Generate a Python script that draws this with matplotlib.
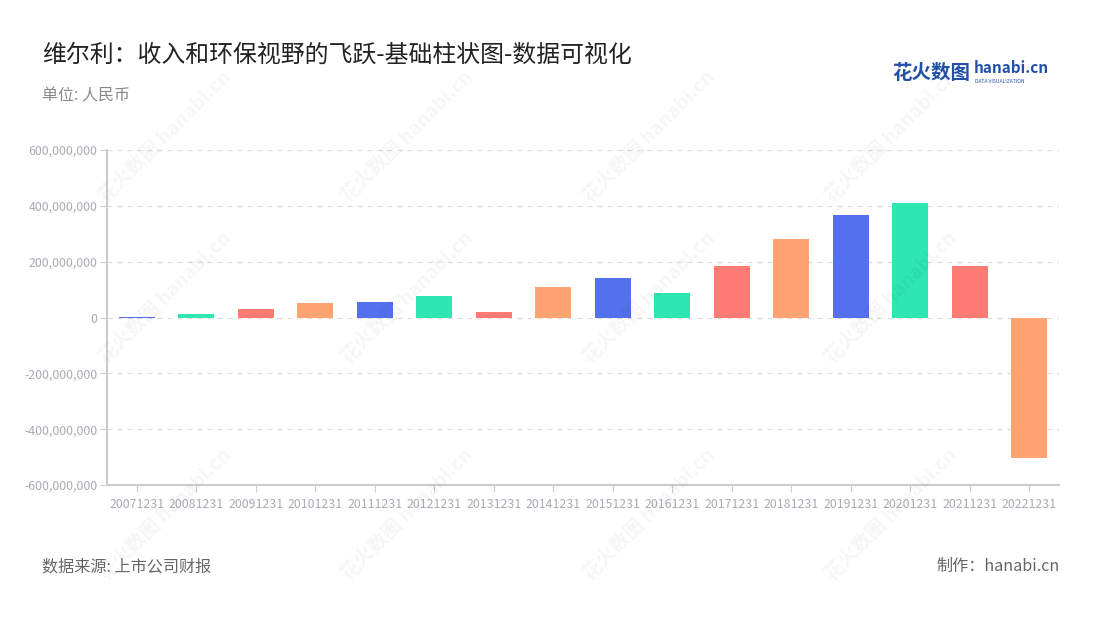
import matplotlib
matplotlib.use("Agg")
import matplotlib.pyplot as plt
from matplotlib.ticker import FuncFormatter

plt.rcParams['font.family'] = ['Noto Sans CJK SC', 'DejaVu Sans']

# Revenue by year-end report date (RMB)
dates = ['20071231', '20081231', '20091231', '20101231', '20111231', '20121231',
         '20131231', '20141231', '20151231', '20161231', '20171231', '20181231',
         '20191231', '20201231', '20211231', '20221231']
values = [0.8e6, 14e6, 30e6, 52e6, 54e6, 77e6, 21e6, 109e6, 141e6, 88e6,
          186e6, 283e6, 366e6, 410e6, 185e6, -502e6]
palette = ['#5470ef', '#2ee6b0', '#ff7a73', '#ffa470']

fig = plt.figure(figsize=(11, 6.2), dpi=100)
ax = fig.add_axes([0.0973, 0.2177, 0.8654, 0.5403])

colors = [palette[i % 4] for i in range(len(dates))]
ax.bar(range(len(dates)), values, width=0.6, color=colors, zorder=3)

ax.set_xlim(-0.5, len(dates) - 0.5)
ax.set_ylim(-600e6, 600e6)
ax.set_yticks([-600e6, -400e6, -200e6, 0, 200e6, 400e6, 600e6])
ax.yaxis.set_major_formatter(FuncFormatter(lambda v, p: f'{int(v):,}'))
ax.set_xticks(range(len(dates)))
ax.set_xticklabels(dates)

ax.grid(axis='y', color='#dddddd', linestyle=(0, (4, 4)), linewidth=0.9, zorder=0)
for s in ['top', 'right']:
    ax.spines[s].set_visible(False)
for s in ['left', 'bottom']:
    ax.spines[s].set_color('#cccccc')
    ax.spines[s].set_linewidth(1.5)
ax.tick_params(axis='both', colors='#cccccc', labelcolor='#aaaab4', labelsize=8.9, length=5)
ax.tick_params(axis='y', pad=2)
ax.tick_params(axis='x', pad=4)

# watermarks
for wx in [0.15, 0.37, 0.59, 0.81]:
    for wy in [0.78, 0.52, 0.17]:
        fig.text(wx, wy, '花火数图 hanabi.cn', rotation=45, fontsize=14, color='#000000',
                 alpha=0.04, ha='center', va='center', fontweight='bold')

fig.text(0.038, 0.911, '维尔利：收入和环保视野的飞跃-基础柱状图-数据可视化', fontsize=17.2,
         color='#222222', va='center')
fig.text(0.038, 0.845, '单位: 人民币', fontsize=11.5, color='#888888', va='center')
fig.text(0.038, 0.086, '数据来源: 上市公司财报', fontsize=11.6, color='#666666', va='center')
fig.text(0.963, 0.086, '制作：hanabi.cn', fontsize=11.6, color='#666666', va='center', ha='right')

# logo
fig.text(0.811, 0.882, '花火数图', fontsize=14, color='#2250a8', fontweight='bold', va='center')
fig.text(0.885, 0.890, 'hanabi.cn', fontsize=11, color='#2250a8', fontweight='bold', va='center')
fig.text(0.886, 0.868, 'DATA VISUALIZATION', fontsize=3.6, color='#2250a8', va='center')

fig.savefig('out.png', dpi=100)
